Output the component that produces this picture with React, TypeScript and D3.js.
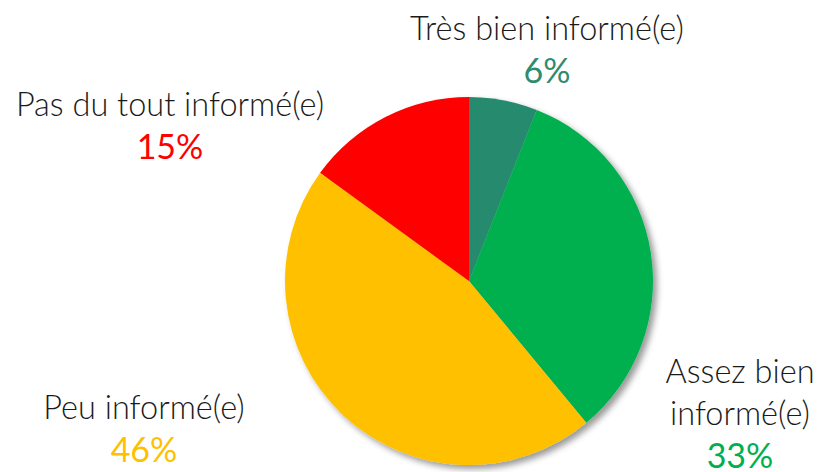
import React from 'react';
import * as d3 from 'd3';

const categories = ['Très bien informé(e)', 'Assez bien informé(e)', 'Peu informé(e)', 'Pas du tout informé(e)'];
const values = [6, 33, 46, 15];
const colors = ['#268A6E', '#00B050', '#FFC000', '#FF0000'];
const valueColors = ['#2E8B6E', '#00B050', '#FFC000', '#FF0000'];

// label lines + anchor position for each slice
const labelLines = [['Très bien informé(e)'], ['Assez bien', 'informé(e)'], ['Peu informé(e)'], ['Pas du tout informé(e)']];
const labelPos = [
  { x: 547, y: 40 },
  { x: 740, y: 383 },
  { x: 144, y: 419 },
  { x: 170, y: 116 },
];

export default function App() {
  const width = 818;
  const height = 472;
  const cx = 469;
  const cy = 281;
  const radius = 184;

  const pie = d3.pie<number>().sort(null).value(d => d);
  const arcs = pie(values);
  const arc = d3.arc<d3.PieArcDatum<number>>().innerRadius(0).outerRadius(radius);

  const lineGap = 42;
  const font = "Lato, 'Open Sans', sans-serif";

  return (
    <svg width={width} height={height} style={{ position: 'absolute', left: 0, top: 0 }}>
      <defs>
        <filter id="shadow" x="-20%" y="-20%" width="140%" height="140%">
          <feDropShadow dx="4" dy="4" stdDeviation="3" floodColor="#000" floodOpacity="0.4" />
        </filter>
      </defs>
      <rect width={width} height={height} fill="#fff" />
      <g transform={`translate(${cx},${cy})`} filter="url(#shadow)">
        {arcs.map((a, i) => (
          <path key={categories[i]} d={arc(a) || ''} fill={colors[i]} />
        ))}
      </g>
      {labelLines.map((lines, i) => (
        <text
          key={categories[i]}
          x={labelPos[i].x}
          y={labelPos[i].y}
          textAnchor="middle"
          fontFamily={font}
          fontWeight={300}
          fontSize={32.5}
          fill="#1a1a1a"
        >
          {lines.map((l, j) => (
            <tspan key={j} x={labelPos[i].x} dy={j === 0 ? 0 : lineGap}>{l}</tspan>
          ))}
          <tspan x={labelPos[i].x} dy={43} fill={valueColors[i]} fontWeight={400} fontSize={34}>{`${values[i]}%`}</tspan>
        </text>
      ))}
    </svg>
  );
}
